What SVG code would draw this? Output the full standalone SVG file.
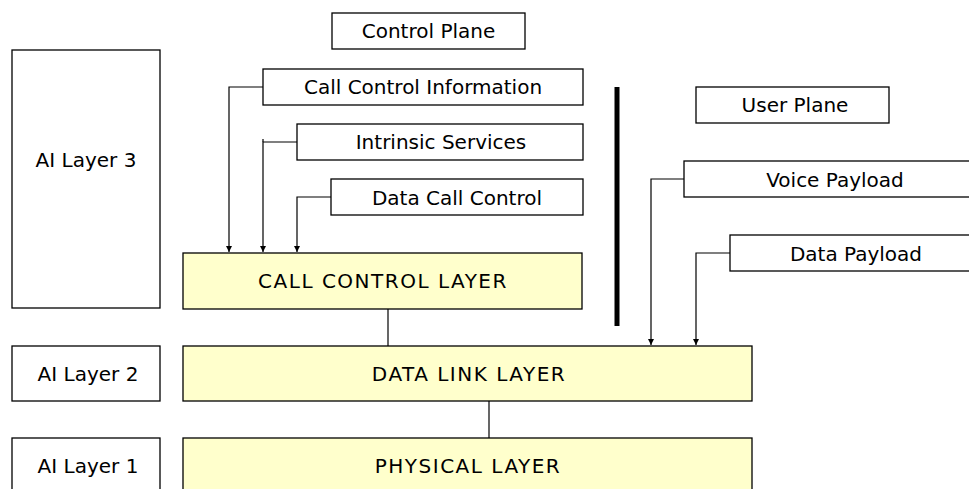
<svg xmlns="http://www.w3.org/2000/svg" width="969" height="489" viewBox="0 0 969 489">
<defs>
<style>
.box{fill:#fff;stroke:#000;stroke-width:1.3}
.layer{fill:#FFFFCC;stroke:#000;stroke-width:1.3}
text{font-family:"DejaVu Sans","Liberation Sans",sans-serif;font-size:20px;fill:#000;text-anchor:middle;dominant-baseline:central}
.lt{letter-spacing:1.5px}
.c{fill:none;stroke:#000;stroke-width:1.2}
</style>
<marker id="ah" markerWidth="8" markerHeight="8" refX="6" refY="3" orient="auto" markerUnits="userSpaceOnUse">
<path d="M0,0 L6,3 L0,6 z" fill="#000"/>
</marker>
</defs>
<g id="control-plane"><rect class="box" x="332" y="13" width="193" height="36"/><text x="428.5" y="31">Control Plane</text></g>
<g id="ai-layer-3"><rect class="box" x="12" y="50" width="148" height="258"/><text x="86" y="160">AI Layer 3</text></g>
<g id="call-control-info"><rect class="box" x="263" y="69" width="320" height="36"/><text x="423" y="87">Call Control Information</text></g>
<g id="intrinsic-services"><rect class="box" x="297" y="124" width="286" height="36"/><text x="441" y="142">Intrinsic Services</text></g>
<g id="data-call-control"><rect class="box" x="331" y="179" width="252" height="36"/><text x="457" y="198">Data Call Control</text></g>
<g id="call-control-layer"><rect class="layer" x="183" y="253" width="399" height="56"/><text class="lt" x="383" y="281">CALL CONTROL LAYER</text></g>
<g id="divider"><rect x="614.5" y="87" width="5" height="239" fill="#000"/></g>
<g id="user-plane"><rect class="box" x="696" y="87" width="193" height="36"/><text x="795" y="105">User Plane</text></g>
<g id="voice-payload"><rect class="box" x="684" y="161" width="290" height="36"/><text x="835" y="180">Voice Payload</text></g>
<g id="data-payload"><rect class="box" x="730" y="235" width="244" height="36"/><text x="856" y="254">Data Payload</text></g>
<g id="ai-layer-2"><rect class="box" x="12" y="346" width="148" height="55"/><text x="88" y="374">AI Layer 2</text></g>
<g id="data-link-layer"><rect class="layer" x="183" y="346" width="569" height="55"/><text class="lt" x="469" y="374">DATA LINK LAYER</text></g>
<g id="ai-layer-1"><rect class="box" x="12" y="438" width="148" height="60"/><text x="88" y="466">AI Layer 1</text></g>
<g id="physical-layer"><rect class="layer" x="183" y="438" width="569" height="60"/><text class="lt" x="468" y="466">PHYSICAL LAYER</text></g>
<g id="connectors">
<path class="c" d="M263,87 H229 V252" marker-end="url(#ah)"/>
<path class="c" d="M297,142 H263 V252" marker-end="url(#ah)"/>
<path class="c" d="M263,139 V142"/>
<path class="c" d="M331,197 H297 V252" marker-end="url(#ah)"/>
<path class="c" d="M684,179 H651 V345" marker-end="url(#ah)"/>
<path class="c" d="M730,253 H696 V345" marker-end="url(#ah)"/>
<path class="c" d="M388,309 V346"/>
<path class="c" d="M489,401 V438"/>
</g>
</svg>
